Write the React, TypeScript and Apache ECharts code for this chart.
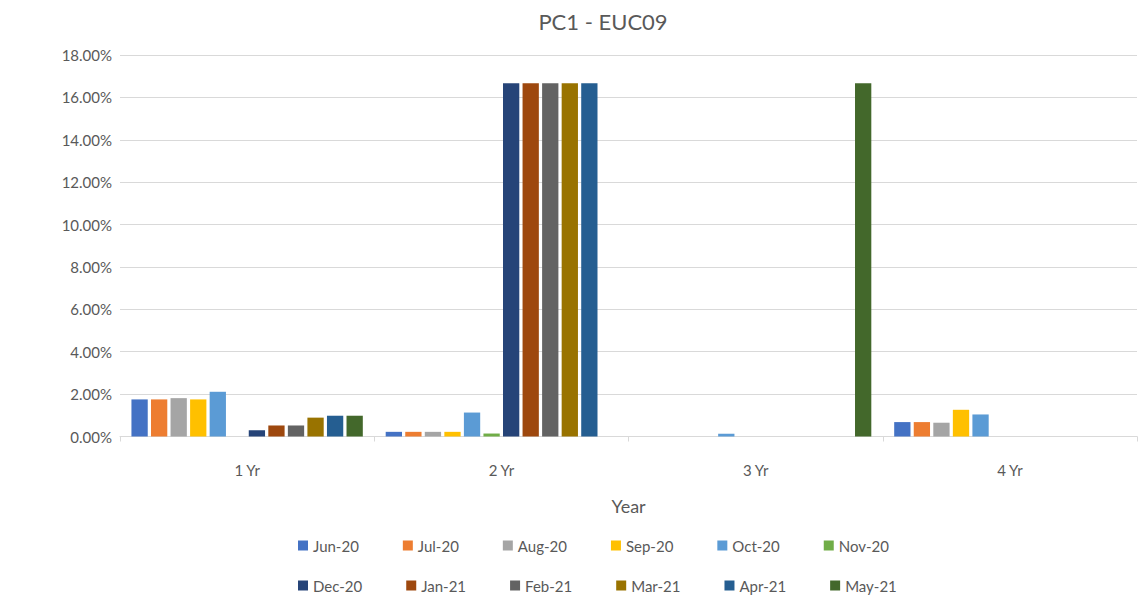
import React, { useEffect, useRef } from "react";
import * as echarts from "echarts";

const categories = ["1 Yr", "2 Yr", "3 Yr", "4 Yr"];
const months = ["Jun-20", "Jul-20", "Aug-20", "Sep-20", "Oct-20", "Nov-20", "Dec-20", "Jan-21", "Feb-21", "Mar-21", "Apr-21", "May-21"];
const colors = ["#4472C4", "#ED7D31", "#A5A5A5", "#FFC000", "#5B9BD5", "#70AD47", "#264478", "#9E480E", "#636363", "#997300", "#255E91", "#43682B"];

// values in percent, one entry per category (1 Yr, 2 Yr, 3 Yr, 4 Yr)
const jun20 = [1.75, 0.22, 0, 0.68];
const jul20 = [1.75, 0.22, 0, 0.68];
const aug20 = [1.81, 0.22, 0, 0.65];
const sep20 = [1.75, 0.22, 0, 1.26];
const oct20 = [2.11, 1.13, 0.13, 1.04];
const nov20 = [0, 0.14, 0, 0];
const dec20 = [0.29, 16.67, 0, 0];
const jan21 = [0.52, 16.67, 0, 0];
const feb21 = [0.52, 16.67, 0, 0];
const mar21 = [0.89, 16.67, 0, 0];
const apr21 = [0.98, 16.67, 0, 0];
const may21 = [0.98, 0, 16.67, 0];
const seriesValues = [jun20, jul20, aug20, sep20, oct20, nov20, dec20, jan21, feb21, mar21, apr21, may21];

const yMin = 0;
const yMax = 18;
const yInterval = 2;

const FONT = "Lato, 'Noto Sans', sans-serif";
const TXT = "#595959";

export default function App() {
  const ref = useRef<HTMLDivElement>(null);
  useEffect(() => {
    if (!ref.current) return;
    const chart = echarts.init(ref.current, undefined, { renderer: "svg" });
    const legendStyle = {
      itemWidth: 10,
      itemHeight: 10,
      itemGap: 44,
      icon: "rect",
      textStyle: { color: TXT, fontSize: 15, fontFamily: FONT },
    };
    chart.setOption({
      animation: false,
      backgroundColor: "#ffffff",
      title: {
        text: "PC1 - EUC09",
        left: 598,
        top: 5,
        textAlign: "center",
        textStyle: { color: TXT, fontSize: 22, fontWeight: "normal", fontFamily: FONT },
      },
      legend: [
        { ...legendStyle, data: months.slice(0, 6), left: 293, top: 533 },
        { ...legendStyle, data: months.slice(6), left: 293, top: 573 },
      ],
      grid: { left: 120, right: 8, top: 55, bottom: 163.5, containLabel: false },
      xAxis: {
        type: "category",
        data: categories,
        name: "Year",
        nameLocation: "middle",
        nameGap: 60,
        nameTextStyle: { color: TXT, fontSize: 18, fontFamily: FONT },
        axisLine: { lineStyle: { color: "#d9d9d9" } },
        axisTick: { show: true, length: 5, lineStyle: { color: "#d9d9d9" } },
        axisLabel: { color: TXT, fontSize: 15, fontFamily: FONT, margin: 26 },
      },
      yAxis: {
        type: "value",
        min: yMin,
        max: yMax,
        interval: yInterval,
        axisLine: { show: false },
        axisTick: { show: false },
        splitLine: { lineStyle: { color: "#d9d9d9" } },
        axisLabel: {
          color: TXT,
          fontSize: 15,
          fontFamily: FONT,
          margin: 8,
          formatter: (v: number) => v.toFixed(2) + "%",
        },
      },
      series: months.map((m, i) => ({
        name: m,
        type: "bar",
        data: seriesValues[i],
        itemStyle: { color: colors[i] },
        barGap: "20%",
        barCategoryGap: "9%",
      })),
    });
    return () => chart.dispose();
  }, []);
  return <div ref={ref} style={{ position: "fixed", left: 0, top: 0, width: 1145, height: 600 }} />;
}
